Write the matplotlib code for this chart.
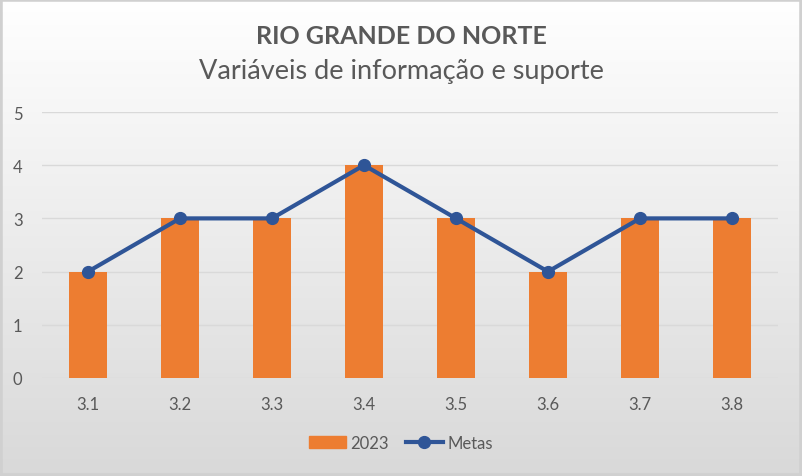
import numpy as np
import matplotlib.pyplot as plt
from matplotlib.lines import Line2D
from matplotlib.patches import Patch, Rectangle

categories = ["3.1", "3.2", "3.3", "3.4", "3.5", "3.6", "3.7", "3.8"]
values_2023 = [2, 3, 3, 4, 3, 2, 3, 3]
metas = [2, 3, 3, 4, 3, 2, 3, 3]

plt.rcParams['font.family'] = ['Lato', 'DejaVu Sans']
txt = '#595959'

fig = plt.figure(figsize=(8.02, 4.77), dpi=100)

# gradient background
bg = fig.add_axes([0, 0, 1, 1], zorder=-10)
grad = np.linspace(1.0, 0.85, 256).reshape(-1, 1)
bg.imshow(np.dstack([grad, grad, grad]), aspect='auto', extent=[0, 1, 0, 1])
bg.add_patch(Rectangle((0, 0), 1, 1, transform=bg.transAxes, fill=False,
                       edgecolor='#d0d0d0', linewidth=4))
bg.axis('off')

ax = fig.add_axes([42 / 802, 1 - 379 / 477, 736 / 802, 266 / 477])
ax.patch.set_alpha(0)
x = np.arange(len(categories))
ax.bar(x, values_2023, width=0.41, color='#ED7D31', zorder=2)
ax.plot(x, metas, color='#2F5597', linewidth=3, marker='o', markersize=8.5, zorder=3)

ax.set_xlim(-0.5, len(categories) - 0.5)
ax.set_ylim(0, 5)
ax.set_yticks(range(6))
ax.set_xticks(x)
ax.set_xticklabels(categories)
ax.grid(axis='y', color='#d9d9d9', linewidth=1, zorder=0)
ax.tick_params(length=0, labelsize=12, labelcolor=txt)
ax.tick_params(axis='x', pad=13)
ax.tick_params(axis='y', pad=14)
for s in ax.spines.values():
    s.set_visible(False)

fig.text(0.5, 1 - 37 / 477, "RIO GRANDE DO NORTE", ha='center', va='center',
         fontsize=18, fontweight='bold', color=txt)
fig.text(0.5, 1 - 72 / 477, "Variáveis de informação e suporte", ha='center', va='center',
         fontsize=19.5, color=txt)

handles = [Patch(color='#ED7D31', label='2023'),
           Line2D([0], [0], color='#2F5597', linewidth=3, marker='o', markersize=8.5, label='Metas')]
fig.legend(handles=handles, loc='center', bbox_to_anchor=(0.5, 1 - 444 / 477), ncol=2,
           frameon=False, fontsize=12, labelcolor=txt, handlelength=2.2, columnspacing=1.0,
           handletextpad=0.3)

fig.savefig('out.png', dpi=100)
